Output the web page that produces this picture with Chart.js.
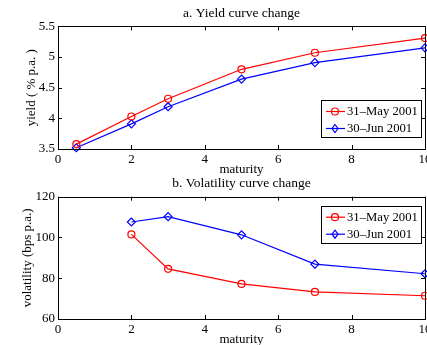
<!DOCTYPE html>
<html>
<head>
<meta charset="utf-8">
<script src="https://cdn.jsdelivr.net/npm/chart.js@4"></script>
<style>
  html, body { margin: 0; padding: 0; background: #fff; overflow: hidden; width: 427px; height: 345px; }
  .panel { position: absolute; left: 0; }
</style>
</head>
<body>
<div class="panel" style="top:0"><canvas id="yieldChart" width="440" height="178"></canvas></div>
<div class="panel" style="top:172px"><canvas id="volChart" width="440" height="176"></canvas></div>
<script>
// panel a: yield curve
const maturityA = [0.5, 2, 3, 5, 7, 10];
const yieldMay = [3.58, 4.03, 4.32, 4.80, 5.07, 5.31];
const yieldJun = [3.52, 3.91, 4.19, 4.64, 4.91, 5.15];
// panel b: volatility curve
const maturityB = [2, 3, 5, 7, 10];
const volMay = [101.5, 84.6, 77.2, 73.3, 71.4];
const volJun = [107.6, 110.2, 101.3, 86.9, 82.2];

const seriesLabels = ['31\u2013May 2001', '30\u2013Jun 2001'];
const xTicks = [0, 2, 4, 6, 8, 10];
const yieldTicks = [3.5, 4, 4.5, 5, 5.5];
const volTicks = [60, 80, 100, 120];

const FONT = '"Liberation Serif", "DejaVu Serif", serif';
Chart.defaults.font.family = FONT;
Chart.defaults.font.size = 13;
Chart.defaults.color = '#000';

const toXY = (xs, ys) => xs.map((x, i) => ({ x: x, y: ys[i] }));

function drawMarker(ctx, style, x, y, r) {
  ctx.beginPath();
  if (style === 'circle') {
    ctx.arc(x, y, r, 0, Math.PI * 2);
  } else {
    ctx.moveTo(x, y - r - 0.5);
    ctx.lineTo(x + r - 0.5, y);
    ctx.lineTo(x, y + r + 0.5);
    ctx.lineTo(x - r + 0.5, y);
    ctx.closePath();
  }
  ctx.stroke();
}

// matlab style box with inward ticks
const frame = {
  id: 'frame',
  afterDatasetsDraw(chart) {
    const { ctx, chartArea: a, scales } = chart;
    ctx.save();
    ctx.strokeStyle = '#000';
    ctx.lineWidth = 1;
    ctx.strokeRect(Math.round(a.left) + 0.5, Math.round(a.top) + 0.5,
      Math.round(a.right - a.left), Math.round(a.bottom - a.top));
    const t = 4;
    ctx.beginPath();
    scales.x.ticks.forEach(tk => {
      const px = Math.round(scales.x.getPixelForValue(tk.value)) + 0.5;
      ctx.moveTo(px, a.bottom); ctx.lineTo(px, a.bottom - t);
      ctx.moveTo(px, a.top); ctx.lineTo(px, a.top + t);
    });
    scales.y.ticks.forEach(tk => {
      const py = Math.round(scales.y.getPixelForValue(tk.value)) + 0.5;
      ctx.moveTo(a.left, py); ctx.lineTo(a.left + t, py);
      ctx.moveTo(a.right, py); ctx.lineTo(a.right - t, py);
    });
    ctx.stroke();
    ctx.restore();
  }
};

const boxLegend = {
  id: 'boxLegend',
  afterDraw(chart, args, opts) {
    const { ctx, chartArea: a } = chart;
    const w = 100, h = 37;
    const x = a.right - 4 - w;
    const y = opts.top != null ? a.top + opts.top : a.bottom - opts.bottom - h;
    ctx.save();
    ctx.fillStyle = '#fff';
    ctx.fillRect(x, y, w, h);
    ctx.strokeStyle = '#000';
    ctx.lineWidth = 1;
    ctx.strokeRect(Math.round(x) + 0.5, Math.round(y) + 0.5, w, h);
    ctx.font = '12.7px ' + FONT;
    ctx.textBaseline = 'middle';
    chart.data.datasets.forEach((ds, i) => {
      const cy = y + 11.5 + i * 17;
      ctx.strokeStyle = ds.borderColor;
      ctx.lineWidth = 1.2;
      ctx.beginPath();
      ctx.moveTo(x + 5, cy); ctx.lineTo(x + 24, cy);
      ctx.stroke();
      drawMarker(ctx, ds.pointStyle, x + 14, cy, 3.5);
      ctx.fillStyle = '#000';
      ctx.fillText(ds.label, x + 26, cy + 0.5);
    });
    ctx.restore();
  }
};

function makeChart(id, cfg) {
  return new Chart(document.getElementById(id), {
    type: 'line',
    data: {
      datasets: [
        { label: seriesLabels[0], data: toXY(cfg.xs, cfg.may), borderColor: '#ff0000',
          backgroundColor: 'transparent', pointStyle: 'circle', pointRadius: 3.5 },
        { label: seriesLabels[1], data: toXY(cfg.xs, cfg.jun), borderColor: '#0000ff',
          backgroundColor: 'transparent', pointStyle: 'rectRot', pointRadius: 4 }
      ]
    },
    options: {
      responsive: false,
      animation: false,
      layout: { padding: { left: 0, right: 15, top: 0, bottom: 0 } },
      elements: {
        line: { borderWidth: 1.2, tension: 0 },
        point: { borderWidth: 1.2, hoverRadius: 4 }
      },
      datasets: { line: { clip: false } },
      plugins: {
        legend: { display: false },
        tooltip: { enabled: false },
        title: {
          display: true, fullSize: false, text: cfg.title,
          font: { size: 13.5, weight: 'normal', family: FONT }, color: '#000',
          padding: cfg.titlePad
        },
        boxLegend: cfg.legend
      },
      scales: {
        x: {
          type: 'linear', min: 0, max: 10,
          afterBuildTicks: s => { s.ticks = xTicks.map(v => ({ value: v })); },
          afterFit: s => { s.height = cfg.xHeight; },
          grid: { display: false, drawTicks: false },
          border: { display: false },
          ticks: { padding: 3, maxRotation: 0, callback: v => String(v) },
          title: { display: true, text: 'maturity', padding: { top: 0, bottom: 0.4 } }
        },
        y: {
          type: 'linear', min: cfg.yTicks[0], max: cfg.yTicks[cfg.yTicks.length - 1],
          afterBuildTicks: s => { s.ticks = cfg.yTicks.map(v => ({ value: v })); },
          afterFit: s => { s.width = 58; },
          grid: { display: false, drawTicks: false },
          border: { display: false },
          ticks: { padding: 3, callback: v => String(v) },
          title: { display: true, text: cfg.yTitle, padding: { top: cfg.yTitlePad, bottom: 0 } }
        }
      }
    },
    plugins: [frame, boxLegend]
  });
}

makeChart('yieldChart', {
  xs: maturityA, may: yieldMay, jun: yieldJun,
  title: 'a. Yield curve change', titlePad: { top: 5, bottom: 5.2 },
  yTicks: yieldTicks, yTitle: 'yield ( % p.a. )', yTitlePad: 23.4,
  xHeight: 29, legend: { bottom: 12 }
});

makeChart('volChart', {
  xs: maturityB, may: volMay, jun: volJun,
  title: 'b. Volatility curve change', titlePad: { top: 3.5, bottom: 5 },
  yTicks: volTicks, yTitle: 'volatility (bps p.a.)', yTitlePad: 19.4,
  xHeight: 29, legend: { top: 9 }
});
</script>
</body>
</html>
